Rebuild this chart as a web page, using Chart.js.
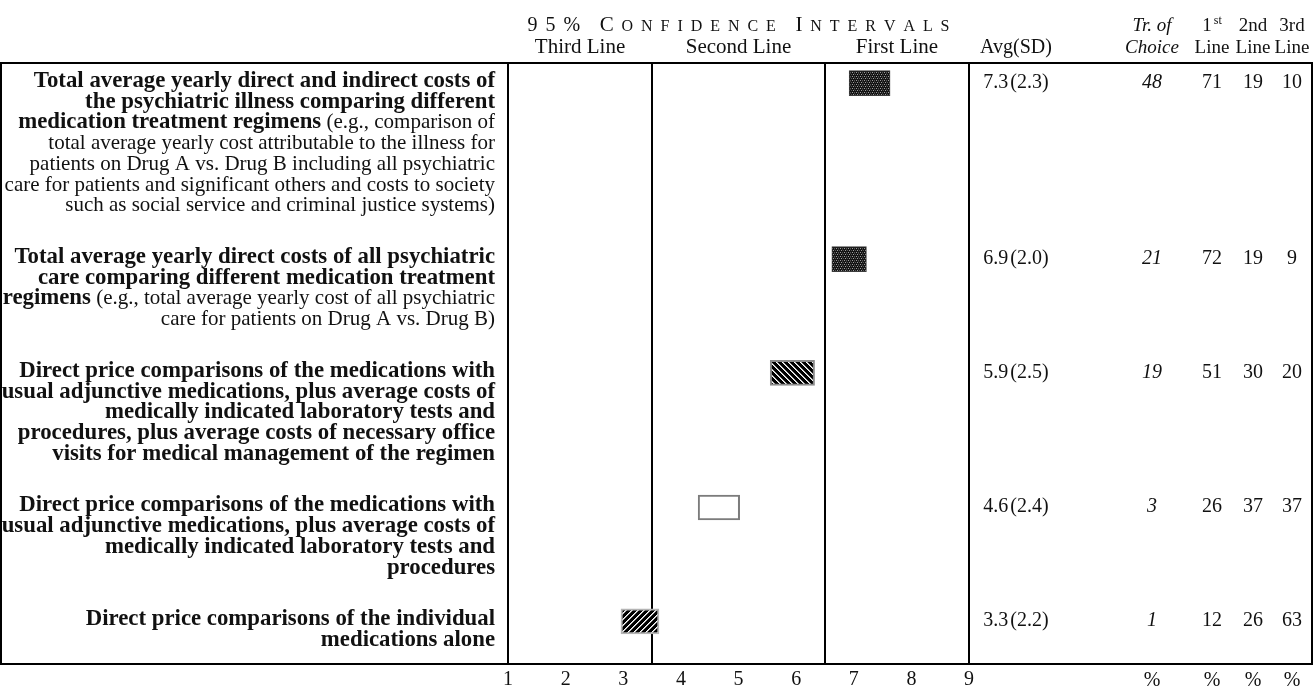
<!DOCTYPE html>
<html>
<head>
<meta charset="utf-8">
<script src="https://cdn.jsdelivr.net/npm/chart.js@4.4.1/dist/chart.umd.min.js"></script>
<style>
html, body { margin:0; padding:0; background:#fff; }
</style>
</head>
<body>
<canvas id="ci" width="1315" height="688"></canvas>
<script>
// one entry per row, top to bottom. '**' switches bold on / off
const labelLines = [
    ['**Total average yearly direct and indirect costs of',
     '**the psychiatric illness comparing different',
     '**medication treatment regimens** (e.g., comparison of',
     'total average yearly cost attributable to the illness for',
     'patients on Drug A vs. Drug B including all psychiatric',
     'care for patients and significant others and costs to society',
     'such as social service and criminal justice systems)'],
    ['**Total average yearly direct costs of all psychiatric',
     '**care comparing different medication treatment',
     '**regimens** (e.g., total average yearly cost of all psychiatric',
     'care for patients on Drug A vs. Drug B)'],
    ['**Direct price comparisons of the medications with',
     '**usual adjunctive medications, plus average costs of',
     '**medically indicated laboratory tests and',
     '**procedures, plus average costs of necessary office',
     '**visits for medical management of the regimen'],
    ['**Direct price comparisons of the medications with',
     '**usual adjunctive medications, plus average costs of',
     '**medically indicated laboratory tests and',
     '**procedures'],
    ['**Direct price comparisons of the individual',
     '**medications alone']
]
const ciLow  = [6.92, 6.62, 5.55, 4.30, 2.96]
const ciHigh = [7.63, 7.22, 6.32, 5.02, 3.62]
const avg    = [7.3, 6.9, 5.9, 4.6, 3.3]
const sd     = [2.3, 2.0, 2.5, 2.4, 2.2]
const choice = [48, 21, 19, 3, 1]
const pctFirst  = [71, 72, 51, 26, 12]
const pctSecond = [19, 19, 30, 37, 26]
const pctThird  = [10, 9, 20, 37, 63]
const xTicks = [1, 2, 3, 4, 5, 6, 7, 8, 9]
const zoneNames = ['Third Line', 'Second Line', 'First Line']
const zoneEdges = [1, 3.5, 6.5, 9]

// layout, in text lines
const GAP = 1.5, TOP_PAD = 0.97, BOTTOM_PAD = 1.06
const rowY = []
let acc = TOP_PAD
for (let lines of labelLines) { rowY.push(acc); acc += lines.length + GAP }
const yMax = acc - GAP - 1 + BOTTOM_PAD

const SERIF = "'Liberation Serif', 'Times New Roman', serif"
const fnt = (size, weight, style) => `${style || 'normal'} ${weight || 'normal'} ${size}px ${SERIF}`
const INK = '#111'
const LABEL_RIGHT = 495
const COL = {avg: 1016, choice: 1152, first: 1212, second: 1253, third: 1292}

const canvas = document.getElementById('ci')
const ctx0 = canvas.getContext('2d')

function pattern(size, bg, dots) {
    const c = document.createElement('canvas')
    c.width = size; c.height = size
    const g = c.getContext('2d')
    g.fillStyle = bg
    g.fillRect(0, 0, size, size)
    for (let [x, y, col] of dots) { g.fillStyle = col; g.fillRect(x, y, 1, 1) }
    return ctx0.createPattern(c, 'repeat')
}
const mesh = pattern(4, '#141414', [[0,0,'#9a9a9a'],[2,0,'#555'],[1,2,'#9a9a9a'],[3,2,'#555'],[2,1,'#333']])
const back = [], fwd = []
for (let i = 0; i < 6; i++) {
    back.push([i, i, '#fff'], [(i+1)%6, i, '#aaa'])
    fwd.push([5-i, i, '#fff'], [(6-i)%6, i, '#aaa'])
}
const barFill = [mesh, mesh, pattern(6, '#000', back), '#fff', pattern(6, '#000', fwd)]
const barEdge = ['#3c3c3c', '#3c3c3c', '#8c8c8c', '#7c7c7c', '#b4b4b4']
const barEdgeW = [1, 1, 2, 2, 2]

function drawRich(ctx, line, xRight, yb, size) {
    const parts = line.split('**')
    const fonts = parts.map((p, i) => i % 2 ? fnt(size.bold, 'bold') : fnt(size.note))
    let w = 0
    parts.forEach((p, i) => { ctx.font = fonts[i]; w += ctx.measureText(p).width })
    let x = xRight - w
    ctx.textAlign = 'left'
    parts.forEach((p, i) => {
        ctx.font = fonts[i]
        ctx.fillText(p, x, yb)
        x += ctx.measureText(p).width
    })
}

// small caps header with wide letter spacing, fitted to a given width
function drawSpaced(ctx, pieces, cx, yb, width) {
    const chars = []
    for (let [txt, size] of pieces) for (let ch of txt) chars.push([ch, size])
    let natural = 0
    for (let [ch, size] of chars) { ctx.font = fnt(size); natural += ctx.measureText(ch).width }
    const sp = (width - natural) / (chars.length - 1)
    let x = cx - width / 2
    ctx.textAlign = 'left'
    for (let [ch, size] of chars) {
        ctx.font = fnt(size)
        ctx.fillText(ch, x, yb)
        x += ctx.measureText(ch).width + sp
    }
}

const tablePlugin = {
    id: 'table',
    beforeDatasetsDraw(chart) {
        const {ctx, chartArea, scales: {x}} = chart
        ctx.save()
        ctx.strokeStyle = '#000'
        ctx.lineWidth = 2
        ctx.strokeRect(1, chartArea.top, chart.width - 4, chartArea.bottom - chartArea.top)
        for (let v of zoneEdges) {
            const px = Math.round(x.getPixelForValue(v))
            ctx.beginPath()
            ctx.moveTo(px, chartArea.top)
            ctx.lineTo(px, chartArea.bottom)
            ctx.stroke()
        }
        ctx.restore()
    },
    afterDraw(chart) {
        const {ctx, chartArea, scales: {x, y}} = chart
        ctx.save()
        ctx.fillStyle = INK
        ctx.textBaseline = 'alphabetic'

        // header
        const cx = (x.getPixelForValue(1) + x.getPixelForValue(9)) / 2
        drawSpaced(ctx, [['95%', 20], [' ', 15], ['C', 21], ['ONFIDENCE', 16], [' ', 15], ['I', 21], ['NTERVALS', 16]], cx, 31, 422)
        ctx.font = fnt(21)
        ctx.textAlign = 'center'
        zoneNames.forEach((name, i) => {
            ctx.fillText(name, x.getPixelForValue((zoneEdges[i] + zoneEdges[i+1]) / 2), 53)
        })

        ctx.font = fnt(20)
        ctx.fillText('Avg(SD)', COL.avg, 53)
        ctx.font = fnt(19, 'normal', 'italic')
        ctx.fillText('Tr. of', COL.choice, 31)
        ctx.fillText('Choice', COL.choice, 53)
        ctx.font = fnt(19)
        ctx.fillText('2nd', COL.second, 31)
        ctx.fillText('3rd', COL.third, 31)
        for (let c of [COL.first, COL.second, COL.third]) ctx.fillText('Line', c, 53)
        // 1st with superscript
        ctx.font = fnt(19); const w1 = ctx.measureText('1').width
        ctx.font = fnt(12); const w2 = ctx.measureText('st').width
        const x0 = COL.first - (w1 + 2 + w2) / 2
        ctx.textAlign = 'left'
        ctx.font = fnt(19); ctx.fillText('1', x0, 31)
        ctx.font = fnt(12); ctx.fillText('st', x0 + w1 + 2, 24)

        // row labels and values
        labelLines.forEach((lines, r) => {
            lines.forEach((line, k) => {
                drawRich(ctx, line, LABEL_RIGHT, y.getPixelForValue(rowY[r] + k) + 4, {bold: 22.8, note: 21})
            })
            const yb = y.getPixelForValue(rowY[r]) + 5
            ctx.font = fnt(20)
            const a = avg[r].toFixed(1), s = '(' + sd[r].toFixed(1) + ')'
            const wa = ctx.measureText(a).width, ws = ctx.measureText(s).width
            ctx.textAlign = 'left'
            ctx.fillText(a, COL.avg - (wa + ws + 2) / 2, yb)
            ctx.fillText(s, COL.avg - (wa + ws + 2) / 2 + wa + 2, yb)
            ctx.textAlign = 'center'
            ctx.font = fnt(20, 'normal', 'italic')
            ctx.fillText(String(choice[r]), COL.choice, yb)
            ctx.font = fnt(20)
            ctx.fillText(String(pctFirst[r]), COL.first, yb)
            ctx.fillText(String(pctSecond[r]), COL.second, yb)
            ctx.fillText(String(pctThird[r]), COL.third, yb)
        })

        // % under the table columns
        ctx.font = fnt(20)
        ctx.textAlign = 'center'
        for (let c of [COL.choice, COL.first, COL.second, COL.third]) ctx.fillText('%', c, 686)
        ctx.restore()
    }
}

const chart = new Chart(canvas, {
    type: 'bar',
    data: {
        datasets: [{
            data: ciLow.map((lo, i) => ({x: [lo, ciHigh[i]], y: rowY[i]})),
            backgroundColor: barFill,
            borderColor: barEdge,
            borderWidth: barEdgeW,
            borderSkipped: false,
            barThickness: 25
        }]
    },
    options: {
        indexAxis: 'y',
        responsive: false,
        animation: false,
        layout: {padding: {left: 508, right: 346, top: 63, bottom: 0}},
        plugins: {legend: {display: false}, tooltip: {enabled: false}},
        scales: {
            x: {
                type: 'linear', min: 1, max: 9,
                afterBuildTicks: s => { s.ticks = xTicks.map(v => ({value: v})) },
                afterFit: s => { s.height = 24 },
                grid: {display: false, drawTicks: false},
                border: {display: false},
                ticks: {color: INK, padding: 4, font: {family: SERIF, size: 20}}
            },
            y: {
                type: 'linear', reverse: true, min: 0, max: yMax,
                offset: false, grace: 0,
                display: false
            }
        }
    },
    plugins: [tablePlugin]
})
</script>
</body>
</html>
